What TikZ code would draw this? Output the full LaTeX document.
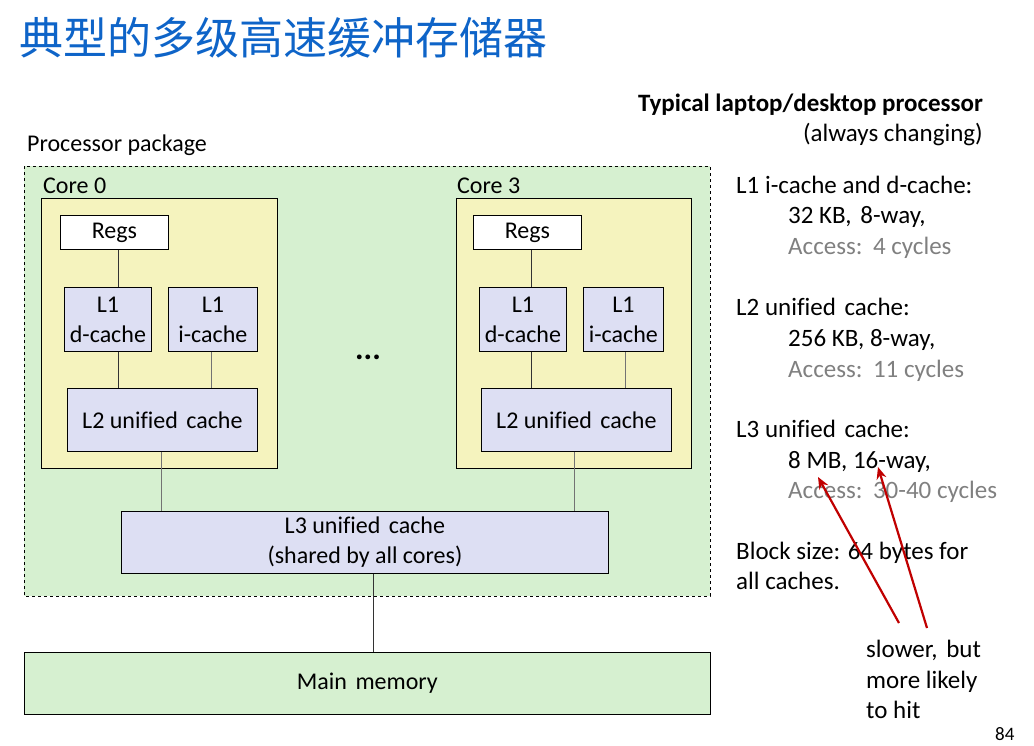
\documentclass[tikz,border=0pt]{standalone}
\usepackage{fontspec}
\setmainfont[Ligatures=NoCommon]{Carlito}
\newfontfamily\cjk{Noto Sans CJK SC}
\usetikzlibrary{arrows.meta}
\definecolor{pkggreen}{RGB}{214,240,208}
\definecolor{coreyellow}{RGB}{245,243,190}
\definecolor{cachelav}{RGB}{221,223,243}
\definecolor{titleblue}{RGB}{14,100,200}
\definecolor{accgray}{RGB}{128,128,128}
\definecolor{arrred}{RGB}{192,0,0}
\newcommand{\gap}{\hspace{3pt}}
\tikzset{
  box/.style={draw=black, line width=0.8pt, inner sep=0pt, align=center, font=\fontsize{24}{30}\selectfont},
  lbl/.style={inner sep=0pt, anchor=base west, font=\fontsize{25}{30}\selectfont},
  wire/.style={draw=black!80, line width=0.8pt},
  redarrow/.style={draw=arrred, line width=2.2pt, -{Stealth[length=12pt,width=10pt]}},
}
\begin{document}
\begin{tikzpicture}[x=1pt,y=-1pt]
\useasboundingbox (0,0) rectangle (1034,745);
% title
\node[inner sep=0pt, anchor=base west, text=titleblue, font=\cjk\fontsize{44}{48}\selectfont] (title) at (19,54) {典型的多级高速缓冲存储器};
% package
\node[lbl, font=\fontsize{24}{30}\selectfont] (pkglbl) at (27,151) {Processor package};
\draw[dashed, fill=pkggreen, line width=0.8pt] (24,166) rectangle (710,596);
% core 0
\node[box, fill=coreyellow, minimum width=236pt, minimum height=270pt, anchor=north west] (core0) at (41,198) {};
\node[lbl, font=\fontsize{24}{30}\selectfont] (core0lbl) at (43,193) {Core 0};
\node[box, fill=white, minimum width=108pt, minimum height=34pt, anchor=north west] (regs0) at (60,215) {Regs};
\node[box, fill=cachelav, minimum width=87pt, minimum height=64pt, anchor=north west] (l1d0) at (64,287) {L1\\d-cache};
\node[box, fill=cachelav, minimum width=89pt, minimum height=64pt, anchor=north west] (l1i0) at (168,287) {L1\\i-cache};
\node[box, fill=cachelav, minimum width=190pt, minimum height=63pt, anchor=north west] (l20) at (67,388) {L2 unified\gap{} cache};
% core 3
\node[box, fill=coreyellow, minimum width=235pt, minimum height=270pt, anchor=north west] (core3) at (456,198) {};
\node[lbl, font=\fontsize{24}{30}\selectfont] (core3lbl) at (457,193) {Core 3};
\node[box, fill=white, minimum width=108pt, minimum height=34pt, anchor=north west] (regs3) at (473,215) {Regs};
\node[box, fill=cachelav, minimum width=87pt, minimum height=64pt, anchor=north west] (l1d3) at (479,287) {L1\\d-cache};
\node[box, fill=cachelav, minimum width=80pt, minimum height=64pt, anchor=north west] (l1i3) at (583,287) {L1\\i-cache};
\node[box, fill=cachelav, minimum width=190pt, minimum height=63pt, anchor=north west] (l23) at (481,388) {L2 unified\gap{} cache};
% dots
\node[inner sep=0pt, font=\fontsize{32}{32}\selectfont\bfseries] (dots) at (368,357) {...};
% L3
\node[box, fill=cachelav, minimum width=487pt, minimum height=62pt, anchor=north west] (l3) at (121,511) {L3 unified\gap{} cache\\(shared by all cores)};
% main memory
\node[box, fill=pkggreen, minimum width=686pt, minimum height=62pt, anchor=north west] (mem) at (24,652) {Main\gap{} memory};
% wires
\draw[wire] (regs0.south -| 118,0) -- (l1d0.north -| 118,0);
\draw[wire] (l1d0.south -| 118,0) -- (l20.north -| 118,0);
\draw[wire, draw=black!55] (l1i0.south -| 211,0) -- (l20.north -| 211,0);
\draw[wire, draw=black!55] (l20.south -| 161,0) -- (l3.north -| 161,0);
\draw[wire] (regs3.south -| 531,0) -- (l1d3.north -| 531,0);
\draw[wire] (l1d3.south -| 531,0) -- (l23.north -| 531,0);
\draw[wire, draw=black!55] (l1i3.south -| 625,0) -- (l23.north -| 625,0);
\draw[wire, draw=black!55] (l23.south -| 574,0) -- (l3.north -| 574,0);
\draw[wire] (l3.south -| 373,0) -- (mem.north -| 373,0);
% right text
\node[inner sep=0pt, anchor=base east, font=\fontsize{25}{30}\selectfont\bfseries] (typ) at (983,111) {Typical laptop/desktop processor};
\node[inner sep=0pt, anchor=base east, font=\fontsize{25}{30}\selectfont] (chg) at (983,141) {(always changing)};
\node[lbl] (t1) at (736,193) {L1 i-cache and d-cache:};
\node[lbl] (t2) at (788,223) {32 KB,\gap{} 8-way,};
\node[lbl, text=accgray] (t3) at (788,254) {Access:\gap{} 4 cycles};
\node[lbl] (t4) at (736,315) {L2 unified\gap{} cache:};
\node[lbl] (t5) at (788,346) {256 KB, 8-way,};
\node[lbl, text=accgray] (t6) at (788,377) {Access:\gap{} 11 cycles};
\node[lbl] (t7) at (736,437) {L3 unified\gap{} cache:};
\node[lbl] (t8) at (788,468) {8 MB, 16-way,};
\node[lbl, text=accgray] (t9) at (788,498) {Access:\gap{} 30-40 cycles};
\node[lbl] (t10) at (736,559) {Block size: 64 bytes for};
\node[lbl] (t11) at (736,589) {all caches.};
\node[lbl] (s1) at (866,657) {slower,\gap{} but};
\node[lbl] (s2) at (866,688) {more likely};
\node[lbl] (s3) at (866,718) {to hit};
\node[inner sep=0pt, anchor=base west, font=\fontsize{19}{20}\selectfont] (pg) at (995,740) {84};
% red arrows
\coordinate (a1s) at (899,623);
\coordinate (a1e) at (818,477);
\coordinate (a2s) at (927,628);
\coordinate (a2e) at (878,467);
\draw[redarrow] (a1s) -- (a1e);
\draw[redarrow] (a2s) -- (a2e);
\end{tikzpicture}
\end{document}
